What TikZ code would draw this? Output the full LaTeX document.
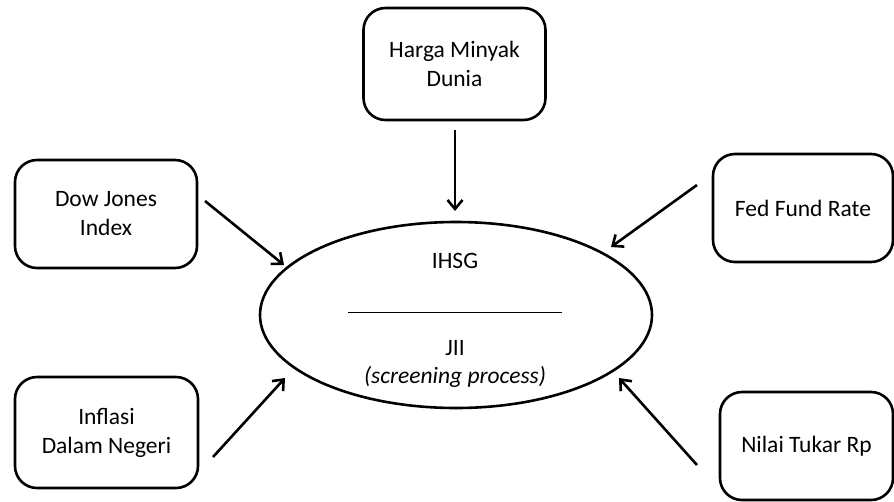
\documentclass[tikz,border=0pt]{standalone}
\usepackage{fontspec}
\setmainfont{Carlito}
\usetikzlibrary{shapes.geometric,arrows.meta}
\begin{document}
\begin{tikzpicture}[x=1pt,y=-1pt,
  factor/.style={draw,line width=2.6pt,rounded corners=22pt,align=center,font=\fontsize{23.5}{29}\selectfont,inner sep=0pt},
  arr/.style={line width=2.6pt,-{Straight Barb[length=9pt,width=15pt,line width=2.6pt]}},
  lbl/.style={font=\fontsize{23.5}{29}\selectfont,align=center}]
\useasboundingbox (0,0) rectangle (894,501);
\node[factor,minimum width=182pt,minimum height=112pt] (minyak) at (454.5,64) {Harga Minyak\\Dunia};
\node[factor,minimum width=182pt,minimum height=108pt] (dow) at (106,214) {Dow Jones\\Index};
\node[factor,minimum width=180pt,minimum height=108pt] (fed) at (803,208) {Fed Fund Rate};
\node[factor,minimum width=183pt,minimum height=111pt] (infl) at (106.5,432.5) {Inflasi\\Dalam Negeri};
\node[factor,minimum width=173pt,minimum height=108pt] (nilai) at (806.5,446) {Nilai Tukar Rp};
\node[draw,ellipse,line width=2.6pt,minimum width=392pt,minimum height=186pt,inner sep=0pt] (core) at (456,315) {};
\node[lbl] (ihsg) at (455,261) {IHSG};
\draw[line width=1pt] (348,312) coordinate (divL) -- (562,312) coordinate (divR);
\node[lbl] (jii) at (455,348) {JII};
\node[lbl] (scr) at (455,377) {\itshape (screening process)};
\coordinate (a1s) at (455,130); \coordinate (a1e) at (455,211);
\coordinate (a2s) at (205,201); \coordinate (a2e) at (284,265);
\coordinate (a3s) at (697,185); \coordinate (a3e) at (611,247);
\coordinate (a4s) at (213,457); \coordinate (a4e) at (285,378);
\coordinate (a5s) at (697,465); \coordinate (a5e) at (619,378);
\draw[arr] (a1s) -- (a1e);
\draw[arr] (a2s) -- (a2e);
\draw[arr] (a3s) -- (a3e);
\draw[arr] (a4s) -- (a4e);
\draw[arr] (a5s) -- (a5e);
\end{tikzpicture}
\end{document}
